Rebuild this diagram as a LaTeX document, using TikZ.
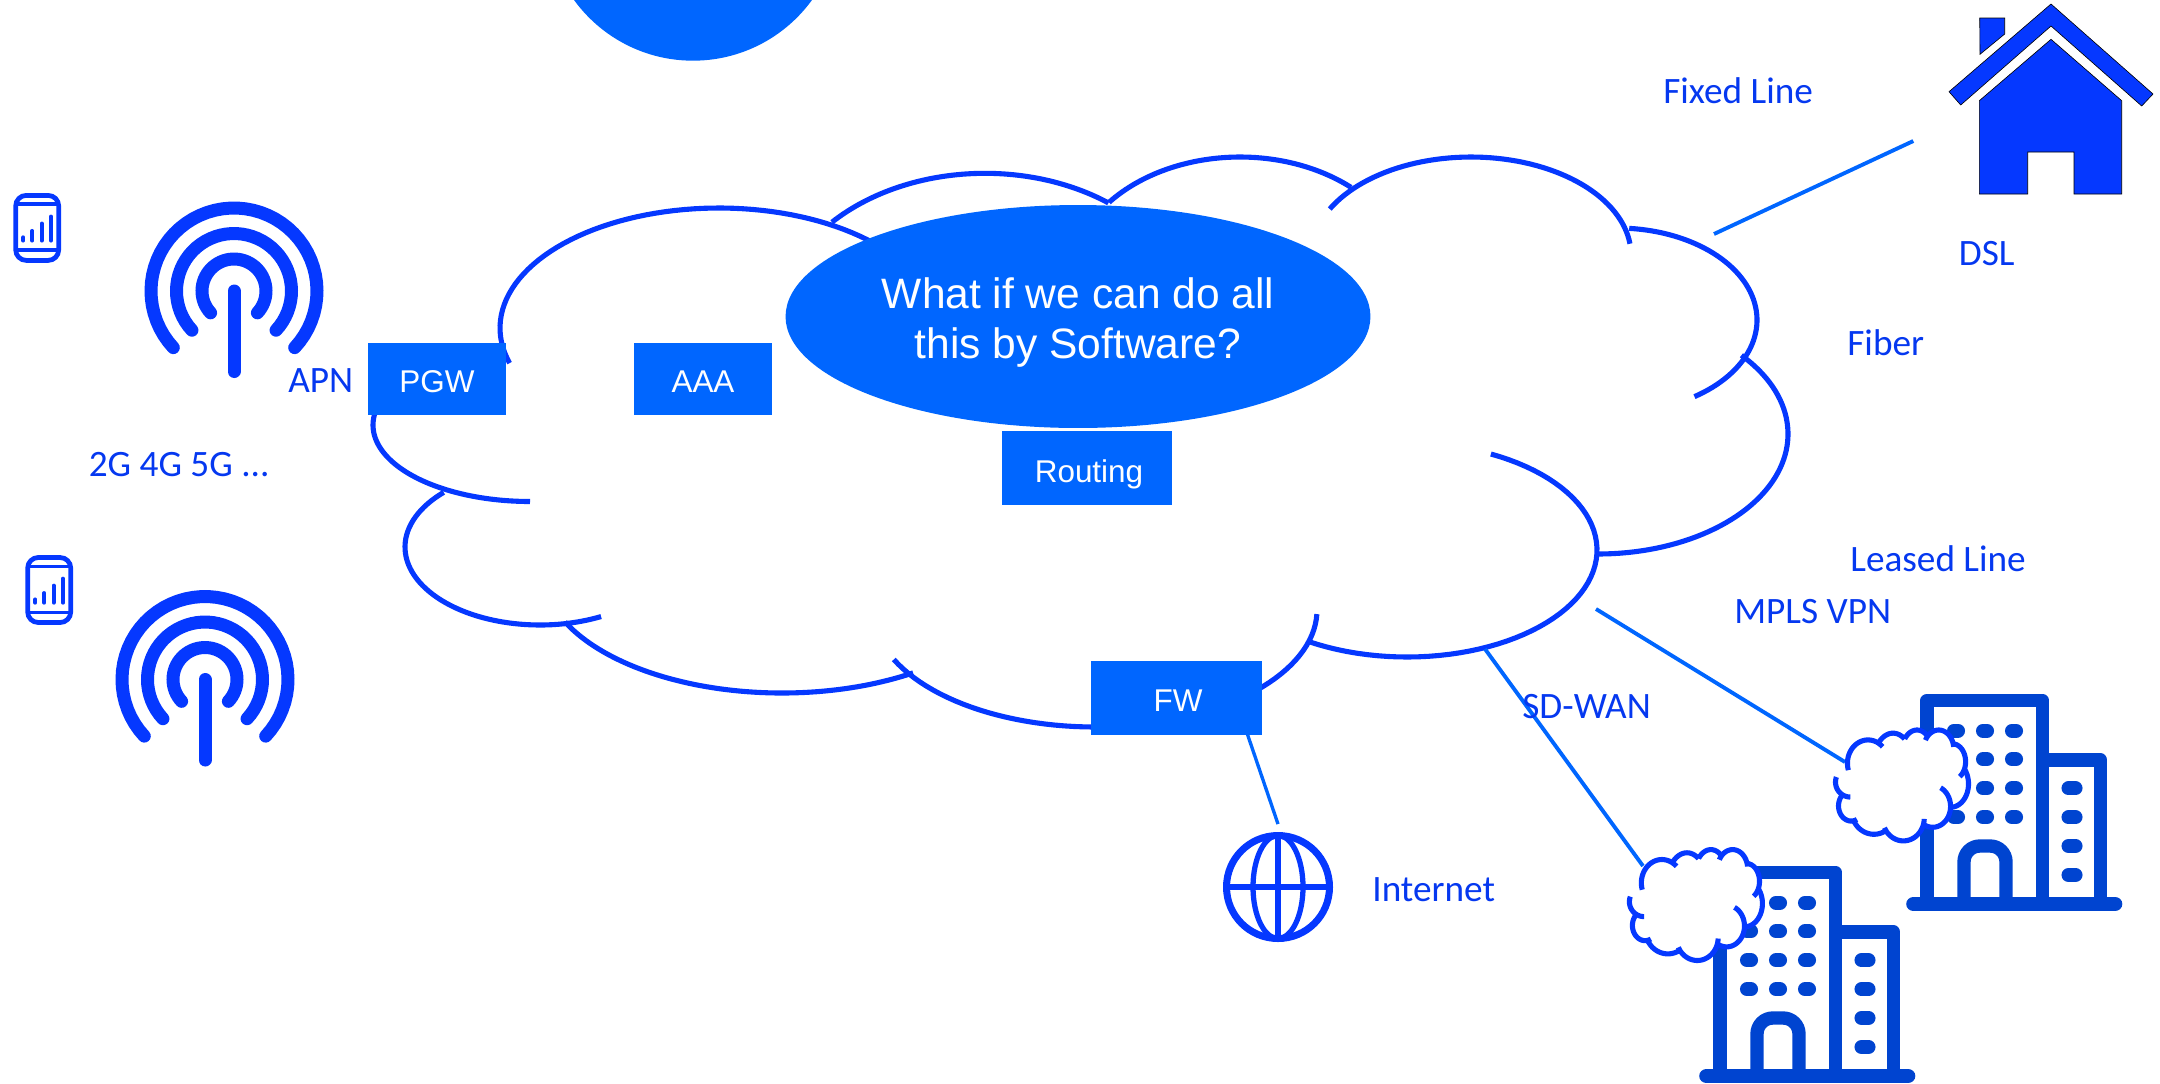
\documentclass[tikz,border=0pt]{standalone}
\usepackage{fontspec}
\setmainfont{Carlito}
\newfontfamily\arialf{Liberation Sans}
\definecolor{cloudblue}{RGB}{5,56,255}
\definecolor{boxblue}{RGB}{0,102,255}
\definecolor{linkblue}{RGB}{0,102,255}
\definecolor{labelblue}{RGB}{5,56,240}
\definecolor{bldblue}{RGB}{0,68,208}
\tikzset{
  cloudline/.style={draw=cloudblue,line width=2.9pt},
  linkline/.style={draw=linkblue,line width=2.2pt},
  bluebox/.style={text=white,inner sep=0pt,font=\arialf\fontsize{17.9}{21}\selectfont},
  lab/.style={text=labelblue,inner sep=0pt,anchor=base west,font=\fontsize{21.2}{25}\selectfont},
  antenna/.style={draw=cloudblue,line width=7.4pt,line cap=round},
  phone/.style={draw=cloudblue,line width=2.7pt},
  bld/.style={draw=bldblue,line width=7.6pt,line join=round},
  pill/.style={draw=bldblue,line width=8pt,line cap=round},
  houseshape/.style={fill=cloudblue,draw=black,line width=0.35pt},
  globeline/.style={draw=cloudblue,line width=3.8pt}
}
% one lobe of the cloud: options; centre x, y; radii x, y; angle from, to
\newcommand{\lobe}[7]{%
  \path[#1] plot[domain=#6:#7,samples=60] ({#2+#4*cos(\x)},{#3-#5*sin(\x)});
}
\newcommand{\cloudarcs}[1]{%
  \lobe{#1}{719}{328}{219}{120}{197}{45}
  \lobe{#1}{985}{328.3}{210}{155}{136.8}{54}
  \lobe{#1}{1240}{282}{170}{125}{140.4}{49.2}
  \lobe{#1}{1471}{255}{160}{98}{152}{6.6}
  \lobe{#1}{1617}{320}{140}{92}{85}{-56.4}
  \lobe{#1}{1598}{434}{190}{120}{41}{-90}
  \lobe{#1}{1407}{550}{190}{107}{63.8}{-121}
  \lobe{#1}{1095}{610}{222}{117}{-2}{-155}
  \lobe{#1}{782}{569}{240}{124}{205.3}{303.1}
  \lobe{#1}{540}{547}{135}{78}{296.9}{135.5}
  \lobe{#1}{530}{425}{157}{76.5}{160}{270}
}
\newcommand{\cloudfill}{%
  \fill[white] (500,330)--(719,208)--(833,225)--(985,173)--(1109,202)--(1236,157)--(1351,188)--(1471,157)--(1603,197)--(1629,228)--(1739,283)--(1756,322)--(1741,360)--(1788,434)--(1728,518)--(1598,554)--(1550,625)--(1407,656)--(1309,640)--(1262,688)--(1091,727)--(912,672)--(781,693)--(565,622)--(463,611)--(405,546)--(444,493)--(386,460)--(373,426)--(376,400)--cycle;
  \cloudarcs{fill=white}
}
\newcommand{\smallcloud}[2]{%
  \begin{scope}[shift={(#1,#2)},xscale=.094,yscale=.1945,shift={(-373,-157)}]
    \cloudfill
    \cloudarcs{cloudline}
  \end{scope}
}
\newcommand{\antennaicon}[2]{%
  \begin{scope}[shift={(#1,#2)}]
    \foreach \r in {83,57.5,32}
      \draw[antenna] plot[domain=-43:223,samples=50] ({\r*cos(\x)},{-\r*sin(\x)});
    \draw[antenna] (0,0) -- (0,80.5);
  \end{scope}
}
\newcommand{\phoneicon}[2]{%
  \begin{scope}[shift={(#1,#2)}]
    \draw[phone,rounded corners=6pt] (0,0) rectangle (43,65);
    \draw[phone,line width=1.8pt] (0,8.6) -- (43,8.6) (0,54.6) -- (43,54.6);
    \draw[phone,line width=2.1pt,line cap=round] (7.6,45.3)--(7.6,41.8) (16.6,45.3)--(16.6,35.4) (26,45.3)--(26,28) (35.3,45.3)--(35.3,21);
  \end{scope}
}
\newcommand{\buildingicon}[2]{%
  \begin{scope}[shift={(#1,#2)}]
    \draw[bld] (1927,904) -- (1927,700.5) -- (2042.5,700.5) -- (2042.5,904);
    \draw[bld] (2042.5,760) -- (2100.5,760) -- (2100.5,904);
    \draw[bld,rounded corners=9pt] (1964,904) -- (1964,846) -- (2006,846) -- (2006,904);
    \draw[bld,line width=8.3pt,line cap=round] (1913.5,904) -- (2115,904);
    \foreach \wy in {730.7,759.3,788.3,817.3}
      \foreach \wx in {1956,1985,2014}
        \draw[pill] (\wx-2,\wy) -- (\wx+2,\wy);
    \foreach \wy in {788.3,817.3,846,875}
      \draw[pill] (2072-3.5,\wy) -- (2072+3.5,\wy);
  \end{scope}
}
\begin{document}
\begin{tikzpicture}[x=0.02cm,y=-0.02cm]
\useasboundingbox (0,0) rectangle (2160,1083);
\clip (0,0) rectangle (2160,1083);
\fill[white] (0,0) rectangle (2160,1083);

% top circle, cut by the page edge
\fill[boxblue] (693,-86.3) circle[radius=2.94cm];

% main cloud
\cloudarcs{cloudline}

% connector ends
\coordinate (homeEnd) at (1913.3,141);
\coordinate (cloudHome) at (1714,234);
\coordinate (cloudMpls) at (1596,609);
\coordinate (mplsEnd) at (1845,762);
\coordinate (cloudSd) at (1485,649);
\coordinate (sdEnd) at (1643,866);
\coordinate (fwOut) at (1247,733);
\coordinate (netEnd) at (1278,824);

\draw[linkline] (cloudHome) -- (homeEnd);
\draw[linkline] (cloudMpls) -- (mplsEnd);
\draw[linkline] (cloudSd) -- (sdEnd);
\draw[linkline,line width=1.9pt] (fwOut) -- (netEnd);

% ellipse
\fill[boxblue] (1078,316.5) ellipse[x radius=5.85cm,y radius=2.23cm];
\node[inner sep=0pt,text=white,align=center,font=\arialf\fontsize{24.2}{28.4}\selectfont] (question) at (1078,322.5) {What if we can do all\\this by Software?};

% boxes
\fill[boxblue] (368,342.7) rectangle (506,415);
\fill[boxblue] (633.7,342.7) rectangle (772,415);
\fill[boxblue] (1002,431) rectangle (1172,505);
\fill[boxblue] (1091,661) rectangle (1262,735);
\node[bluebox,anchor=base] (pgw) at (437,392) {PGW};
\node[bluebox,anchor=base] (aaa) at (703,392) {AAA};
\node[bluebox,anchor=base] (routing) at (1089,482) {Routing};
\node[bluebox,anchor=base] (fw) at (1178,711.7) {FW};

% radio side
\antennaicon{234}{291}
\antennaicon{205}{679.5}
\phoneicon{15.7}{195.4}
\phoneicon{27.7}{557.5}

% globe
\draw[globeline,line width=4pt] (1278,887) circle[radius=1.03cm];
\draw[globeline,line width=3pt] (1278,887) ellipse[x radius=.5cm,y radius=1.03cm];
\draw[globeline] (1278,835) -- (1278,939);
\draw[globeline] (1226,887) -- (1330,887);

% house
\path[houseshape] (2051,4)--(2153,94)--(2141.7,106)--(2051,26)--(1960.7,105)--(1949,91.7)--cycle;
\path[houseshape] (1979.7,18)--(2004.7,18)--(2004.7,34)--(1980,54.3)--cycle;
\path[houseshape] (2051,39.3)--(2121.7,100.7)--(2121.7,194)--(2074,194)--(2074,152)--(2027.7,152)--(2027.7,194)--(1979.3,194)--(1979.3,100.7)--cycle;

% buildings and their clouds
\buildingicon{0}{0}
\buildingicon{-207}{172}
\smallcloud{1835.5}{730}
\smallcloud{1629.4}{849.6}

% labels
\node[lab] (apn) at (288,392) {APN};
\node[lab] (radio) at (88.5,476) {2G 4G 5G ...};
\node[lab] (fixed) at (1663,103) {Fixed Line};
\node[lab] (dsl) at (1958.5,265.5) {DSL};
\node[lab] (fiber) at (1847,355.5) {Fiber};
\node[lab] (leased) at (1850,571) {Leased Line};
\node[lab] (mpls) at (1734,623) {MPLS VPN};
\node[lab] (sdwan) at (1522,718) {SD-WAN};
\node[lab] (internet) at (1372,901) {Internet};
\end{tikzpicture}
\end{document}
